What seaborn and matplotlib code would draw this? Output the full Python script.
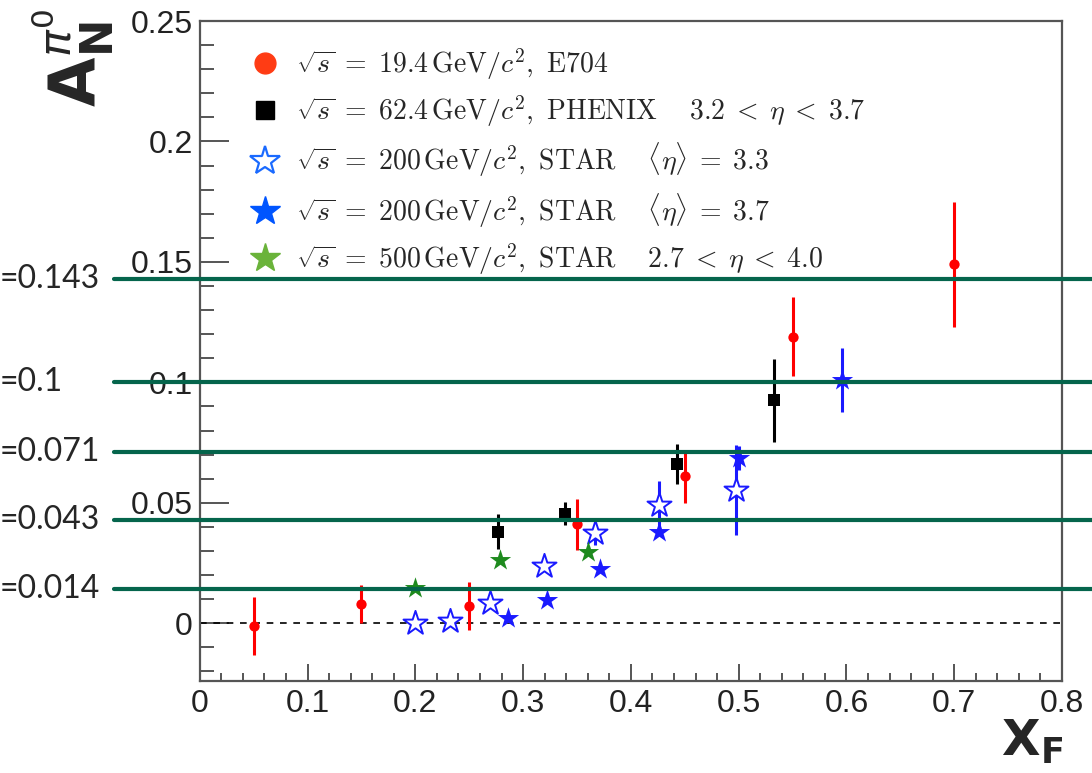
import numpy as np
import pandas as pd
import matplotlib
matplotlib.use("Agg")
import matplotlib.pyplot as plt
from matplotlib.lines import Line2D
from matplotlib.ticker import MultipleLocator
import seaborn as sns

# --- data ---
# E704, sqrt(s)=19.4 GeV
e704_x = [0.05, 0.15, 0.25, 0.35, 0.45, 0.55, 0.70]
e704_y = [-0.001, 0.008, 0.007, 0.041, 0.061, 0.119, 0.149]
e704_err = [0.012, 0.008, 0.010, 0.0105, 0.011, 0.0165, 0.026]

# PHENIX, sqrt(s)=62.4 GeV
phenix_x = [0.277, 0.339, 0.443, 0.533]
phenix_y = [0.038, 0.0455, 0.066, 0.0925]
phenix_err = [0.0073, 0.0048, 0.0084, 0.0173]

# STAR 200 GeV, <eta>=3.3 (open stars)
star33_x = [0.200, 0.232, 0.269, 0.319, 0.367, 0.426, 0.498]
star33_y = [0.0002, 0.001, 0.0085, 0.0237, 0.0374, 0.0489, 0.0554]
star33_err = [0.0, 0.0, 0.0, 0.0, 0.005, 0.010, 0.0186]

# STAR 200 GeV, <eta>=3.7 (filled stars)
star37_x = [0.286, 0.322, 0.371, 0.426, 0.500, 0.596]
star37_y = [0.0023, 0.0095, 0.0227, 0.0379, 0.0684, 0.1008]
star37_err = [0.0, 0.0, 0.0, 0.0, 0.005, 0.0133]

# STAR 500 GeV
star500_x = [0.200, 0.279, 0.360]
star500_y = [0.0147, 0.0262, 0.0295]

# horizontal reference lines
line_vals = [0.143, 0.1, 0.071, 0.043, 0.014]
line_labels = ["=0.143", "=0.1", "=0.071", "=0.043", "=0.014"]

x_ticks = [0, 0.1, 0.2, 0.3, 0.4, 0.5, 0.6, 0.7, 0.8]
x_ticklabels = ["0", "0.1", "0.2", "0.3", "0.4", "0.5", "0.6", "0.7", "0.8"]
y_ticks = [0, 0.05, 0.1, 0.15, 0.2, 0.25]
y_ticklabels = ["0", "0.05", "0.1", "0.15", "0.2", "0.25"]

legend_labels = [
    r"$\sqrt{s}\;=\;19.4\,\mathrm{GeV}/c^2,\ \mathrm{E704}$",
    r"$\sqrt{s}\;=\;62.4\,\mathrm{GeV}/c^2,\ \mathrm{PHENIX}\quad\ 3.2\;<\;\eta\;<\;3.7$",
    r"$\sqrt{s}\;=\;200\,\mathrm{GeV}/c^2,\ \mathrm{STAR}\quad\ \langle\eta\rangle\;=\;3.3$",
    r"$\sqrt{s}\;=\;200\,\mathrm{GeV}/c^2,\ \mathrm{STAR}\quad\ \langle\eta\rangle\;=\;3.7$",
    r"$\sqrt{s}\;=\;500\,\mathrm{GeV}/c^2,\ \mathrm{STAR}\quad\ 2.7\;<\;\eta\;<\;4.0$",
]

df_e704 = pd.DataFrame({"xF": e704_x, "AN": e704_y, "err": e704_err})
df_phenix = pd.DataFrame({"xF": phenix_x, "AN": phenix_y, "err": phenix_err})
df_s33 = pd.DataFrame({"xF": star33_x, "AN": star33_y, "err": star33_err})
df_s37 = pd.DataFrame({"xF": star37_x, "AN": star37_y, "err": star37_err})
df_s500 = pd.DataFrame({"xF": star500_x, "AN": star500_y})

sns.set_theme(style="ticks")
plt.rcParams["font.family"] = ["Liberation Sans", "DejaVu Sans"]
plt.rcParams["mathtext.fontset"] = "cm"

fig = plt.figure(figsize=(10.92, 7.73), dpi=100)
ax = fig.add_axes([0.1829, 0.119, 0.7896, 0.8538])

# error bars
ax.errorbar(df_e704.xF, df_e704.AN, yerr=df_e704.err, fmt="none", ecolor="red", elinewidth=2.2, zorder=2)
ax.errorbar(df_phenix.xF, df_phenix.AN, yerr=df_phenix.err, fmt="none", ecolor="black", elinewidth=2.2, zorder=2)
ax.errorbar(df_s33.xF, df_s33.AN, yerr=df_s33.err, fmt="none", ecolor="#1a1aff", elinewidth=2.2, zorder=2)
ax.errorbar(df_s37.xF, df_s37.AN, yerr=df_s37.err, fmt="none", ecolor="#1a1aff", elinewidth=2.2, zorder=2)

# markers
sns.scatterplot(data=df_e704, x="xF", y="AN", ax=ax, marker="o", color="red", s=55, linewidth=0, zorder=3)
sns.scatterplot(data=df_phenix, x="xF", y="AN", ax=ax, marker="s", color="black", s=80, linewidth=0, zorder=3)
sns.scatterplot(data=df_s33, x="xF", y="AN", ax=ax, marker="*", color="white", edgecolor="#1a1aff",
                s=330, linewidth=1.4, zorder=3)
sns.scatterplot(data=df_s37, x="xF", y="AN", ax=ax, marker="*", color="#1a1aff", s=260, linewidth=0, zorder=3)
sns.scatterplot(data=df_s500, x="xF", y="AN", ax=ax, marker="*", color="#1e8a1e", s=260, linewidth=0, zorder=3)

# zero line
ax.axhline(0, color="black", linestyle=(0, (4, 4)), linewidth=1.2, zorder=1)

# green reference lines spanning past the axes
ytr = ax.get_yaxis_transform()
for val, lab in zip(line_vals, line_labels):
    ax.plot([-0.0994, 1.04], [val, val], transform=ytr, color="#05654c", linewidth=3, clip_on=False, zorder=5)
    ax.text(-0.2317, val, lab, transform=ytr, ha="left", va="center", fontsize=23,
            family=["Lato", "DejaVu Sans"], clip_on=False)

ax.set_xlim(0, 0.8)
ax.set_ylim(-0.024, 0.25)
ax.set_xticks(x_ticks)
ax.set_xticklabels(x_ticklabels)
ax.set_yticks(y_ticks)
ax.set_yticklabels(y_ticklabels)
ax.xaxis.set_minor_locator(MultipleLocator(0.02))
ax.yaxis.set_minor_locator(MultipleLocator(0.01))
ax.tick_params(axis="both", which="both", direction="in", color="#555555", width=1.4,
               labelsize=23, labelcolor="#222222")
ax.tick_params(axis="y", which="major", length=21, pad=5)
ax.tick_params(axis="y", which="minor", length=10)
ax.tick_params(axis="x", which="major", length=12, pad=6)
ax.tick_params(axis="x", which="minor", length=6)
for sp in ax.spines.values():
    sp.set_visible(True)
    sp.set_color("#555555")
    sp.set_linewidth(1.6)
ax.set_xlabel("")
ax.set_ylabel("")

# legend
handles = [
    Line2D([], [], linestyle="none", marker="o", markersize=15, color="#ff3c14"),
    Line2D([], [], linestyle="none", marker="s", markersize=13, color="black"),
    Line2D([], [], linestyle="none", marker="*", markersize=22, markerfacecolor="white",
           markeredgecolor="#1a6aff", markeredgewidth=1.6),
    Line2D([], [], linestyle="none", marker="*", markersize=22, color="#0055ff"),
    Line2D([], [], linestyle="none", marker="*", markersize=22, color="#6ab33a"),
]
ax.legend(handles, legend_labels, loc="upper left", bbox_to_anchor=(0.022, 1.0), frameon=False,
          fontsize=20, labelspacing=0.42, handletextpad=0.4, handlelength=1.5)

# axis titles
fig.text(0.067, 0.925, r"$\mathbf{A}_{\mathbf{N}}^{\pi^{0}}$", rotation=90, ha="center", va="center",
         fontsize=46, math_fontfamily="dejavusans")
fig.text(0.945, 0.04, r"$\mathbf{X}_{\mathbf{F}}$", ha="center", va="center",
         fontsize=36, math_fontfamily="dejavusans")

fig.savefig("out.png", dpi=100)
